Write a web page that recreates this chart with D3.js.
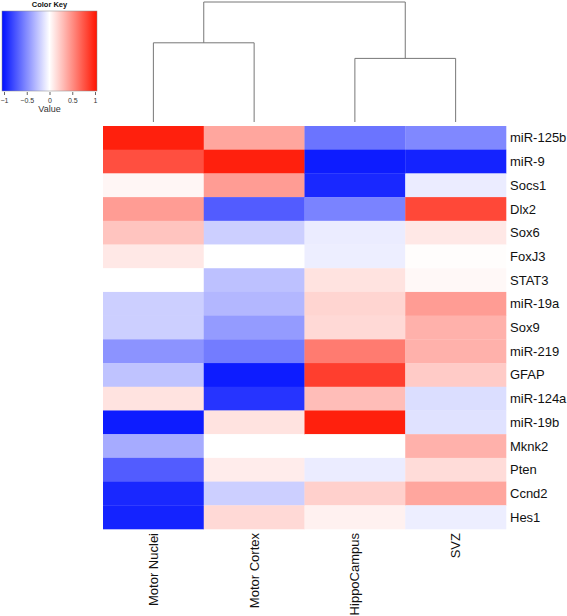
<!DOCTYPE html>
<html><head><meta charset="utf-8">
<script src="https://cdn.jsdelivr.net/npm/d3@7"></script>
<style>body{margin:0;background:#fff}svg{display:block;font-family:"Liberation Sans",Arial,sans-serif}</style>
</head><body>
<script>
const columns = ["Motor Nuclei", "Motor Cortex", "HippoCampus", "SVZ"];
const rows = ["miR-125b","miR-9","Socs1","Dlx2","Sox6","FoxJ3","STAT3","miR-19a","Sox9","miR-219","GFAP","miR-124a","miR-19b","Mknk2","Pten","Ccnd2","Hes1"];
const motorNuclei = [0.95, 0.75, 0.04, 0.42, 0.25, 0.1, 0.0, -0.2, -0.2, -0.45, -0.25, 0.12, -0.95, -0.35, -0.68, -0.9, -0.92];
const motorCortex = [0.38, 0.95, 0.42, -0.68, -0.2, 0.0, -0.26, -0.3, -0.42, -0.55, -0.95, -0.85, 0.12, 0.0, 0.08, -0.2, 0.16];
const hippoCampus = [-0.58, -0.95, -0.9, -0.52, -0.08, -0.07, 0.12, 0.18, 0.16, 0.56, 0.82, 0.28, 0.95, 0.0, -0.08, 0.2, 0.06];
const svz = [-0.5, -0.92, -0.08, 0.78, 0.1, 0.01, 0.03, 0.42, 0.33, 0.33, 0.22, -0.14, -0.12, 0.33, 0.15, 0.38, -0.07];
const keyTicks = [-1, -0.5, 0, 0.5, 1];
// dendrogram merges: [left, right, height]
const merges = [["Motor Nuclei","Motor Cortex",0.66],["HippoCampus","SVZ",0.53],["A","B",1.0]];

const series = [motorNuclei, motorCortex, hippoCampus, svz];
const W = 567, H = 616;
const svg = d3.select("body").append("svg").attr("width", W).attr("height", H);

const x = d3.scaleBand().domain(columns).range([103, 506]).padding(0);
const y = d3.scaleBand().domain(rows).range([126, 529]).padding(0);
const color = d3.scaleLinear().domain([-1, 0, 1]).range(["#0010ff", "#ffffff", "#ff1400"]).interpolate(d3.interpolateRgb).clamp(true);

const cells = [];
columns.forEach((c, ci) => rows.forEach((r, ri) => cells.push({c, r, v: series[ci][ri]})));
svg.append("g").selectAll("rect").data(cells).join("rect")
  .attr("x", d => x(d.c)).attr("y", d => y(d.r))
  .attr("width", x.bandwidth() + 0.3).attr("height", y.bandwidth() + 0.3)
  .attr("fill", d => color(d.v));

// row labels
svg.append("g").selectAll("text").data(rows).join("text")
  .attr("x", 510).attr("y", d => y(d) + y.bandwidth() / 2)
  .attr("dy", "0.35em").attr("font-size", 13).attr("fill", "#111").text(d => d);

// column labels
svg.append("g").selectAll("text").data(columns).join("text")
  .attr("transform", d => `translate(${x(d) + x.bandwidth() / 2},533) rotate(-90)`)
  .attr("text-anchor", "end").attr("dy", "0.35em").attr("font-size", 13).attr("fill", "#111").text(d => d);

// dendrogram
const hy = d3.scaleLinear().domain([0, 1]).range([122, 2]);
const nodes = {};
columns.forEach(c => nodes[c] = {x: x(c) + x.bandwidth() / 2, h: 0});
const names = ["A", "B", "C"];
const dg = svg.append("g").attr("fill", "none").attr("stroke", "#777").attr("stroke-width", 1);
merges.forEach((m, i) => {
  const a = nodes[m[0]], b = nodes[m[1]], h = m[2];
  dg.append("path").attr("d",
    `M${a.x},${hy(a.h)}V${hy(h)}H${b.x}V${hy(b.h)}`);
  nodes[names[i]] = {x: (a.x + b.x) / 2, h};
});

// color key
const kx = d3.scaleLinear().domain([-1, 1]).range([4, 95]);
const defs = svg.append("defs");
const grad = defs.append("linearGradient").attr("id", "kg");
d3.range(0, 1.0001, 0.05).forEach(t => grad.append("stop").attr("offset", t).attr("stop-color", color(-1 + 2 * t)));
svg.append("rect").attr("x", 2).attr("y", 11).attr("width", 95).attr("height", 80).attr("fill", "url(#kg)").attr("stroke", "#888").attr("stroke-width", 0.5);
svg.append("text").attr("x", 49.5).attr("y", 7).attr("text-anchor", "middle").attr("font-size", 7.5).attr("font-weight", "bold").attr("fill", "#111").text("Color Key");
const ka = svg.append("g").attr("transform", "translate(0,92)")
  .call(d3.axisBottom(kx).tickValues(keyTicks).tickSize(3).tickFormat(d3.format("")));
ka.select(".domain").remove();
ka.selectAll("text").attr("font-size", 7).attr("font-family", "Liberation Sans, Arial, sans-serif").attr("fill", "#333");
ka.selectAll("line").attr("stroke", "#666");
svg.append("text").attr("x", 49.5).attr("y", 112).attr("text-anchor", "middle").attr("font-size", 9).attr("fill", "#333").text("Value");
</script>
</body></html>
